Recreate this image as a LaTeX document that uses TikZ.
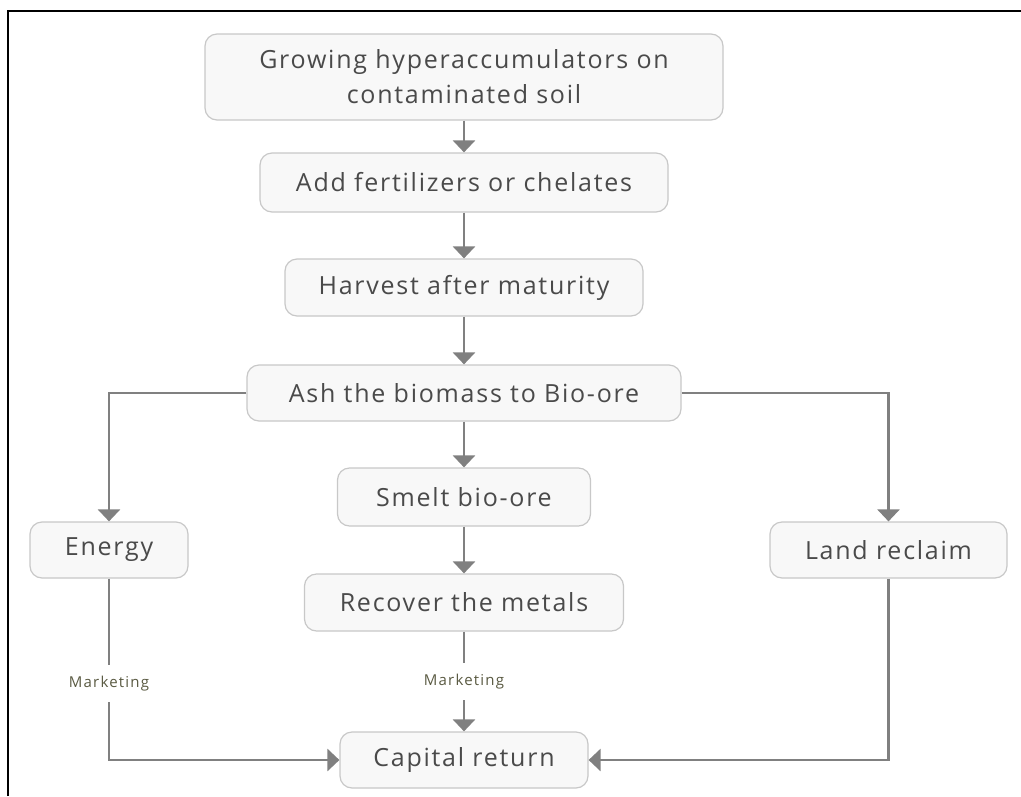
\documentclass[tikz,border=0pt]{standalone}
\usepackage{fontspec}
\setmainfont{Open Sans}
\newfontfamily\boxfont[LetterSpace=7]{Open Sans}
\newfontfamily\mktfont[LetterSpace=8]{Open Sans}
\usepackage{tikz}
\usepackage{xcolor}
\usetikzlibrary{arrows.meta, positioning, calc}
\definecolor{boxline}{HTML}{C8C8C8}
\definecolor{boxfill}{HTML}{F8F8F8}
\definecolor{boxtext}{HTML}{4A4A4A}
\definecolor{flowgray}{HTML}{808080}
\definecolor{mktcolor}{HTML}{5A5A42}

\begin{document}
\begin{tikzpicture}[x=1pt, y=-1pt,
  stage/.style={draw=boxline, fill=boxfill, rounded corners=12pt, line width=1.2pt,
    text=boxtext, font=\boxfont\fontsize{25}{35}\selectfont, align=center, inner sep=0pt},
  flow/.style={draw=flowgray, line width=2.6pt, -{Triangle[width=22pt,length=12pt]}},
  mktlabel/.style={fill=white, text=mktcolor, font=\mktfont\fontsize{15}{17}\selectfont,
    inner xsep=2pt, inner ysep=11pt}]
\useasboundingbox (0,0) rectangle (1021,796);
% Frame
\draw[line width=1.8pt] (8,796) -- (8,11) -- (1021,11);

% Main chain
\node[stage, minimum width=518pt, minimum height=86pt] (grow) at (464,77) {Growing hyperaccumulators on\\contaminated soil};
\node[stage, minimum width=408pt, minimum height=59pt] (fert) at (464,182.5) {Add fertilizers or chelates};
\node[stage, minimum width=358pt, minimum height=57pt] (harvest) at (464,287.5) {Harvest after maturity};
\node[stage, minimum width=434pt, minimum height=56pt] (ash) at (464,393) {Ash the biomass to Bio-ore};
\node[stage, minimum width=253pt, minimum height=58pt] (smelt) at (464,497) {Smelt bio-ore};
\node[stage, minimum width=319pt, minimum height=57pt] (recover) at (464,602.5) {Recover the metals};
\node[stage, minimum width=248pt, minimum height=56pt] (capital) at (464,760) {Capital return};

% Side branches
\node[stage, minimum width=158pt, minimum height=56pt] (energy) at (109,550) {Energy};
\node[stage, minimum width=237pt, minimum height=56pt] (land) at (888.5,550) {Land reclaim};

% Arrows
\draw[flow] (grow) -- (fert);
\draw[flow] (fert) -- (harvest);
\draw[flow] (harvest) -- (ash);
\draw[flow] (ash) -- (smelt);
\draw[flow] (smelt) -- (recover);
\draw[flow] (ash.west) -| (energy);
\draw[flow] (ash.east) -| (land);

% Returns
\draw[flow] (energy) |- node[mktlabel, pos=0.29] {Marketing} (capital);
\draw[flow] (recover) -- node[mktlabel] {Marketing} (capital);
\draw[flow] (land) |- (capital);
\end{tikzpicture}
\end{document}
